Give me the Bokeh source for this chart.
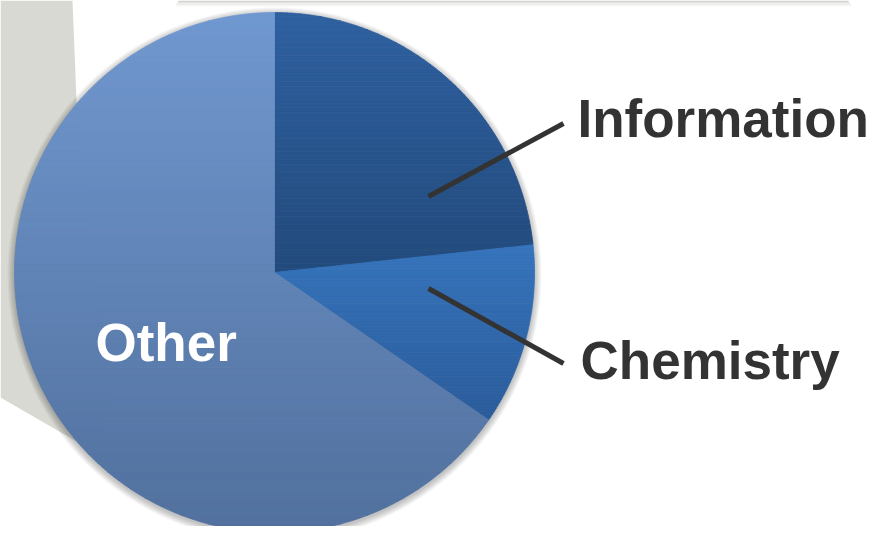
import numpy as np
from bokeh.plotting import figure
from bokeh.models import Range1d
from bokeh.core.properties import value
from bokeh.embed import file_html
from bokeh.resources import INLINE

# ---- data -------------------------------------------------------------
categories = ["Information", "Chemistry", "Other"]
shares = [23.3, 11.3, 65.4]          # percent of the whole
top_colors = ["#2e60a0", "#3674bc", "#7098d0"]
bottom_colors = ["#224a7c", "#2b5c9b", "#51709d"]

# ---- layout (pixels -> data units, pie radius = 1) ---------------------
W, H = 871, 526
CX, CY, R = 274.0, 272.0, 260.0      # pie centre / radius in picture pixels


def dx(sx):
    return (sx - CX) / R


def dy(sy):
    return (CY - sy) / R


p = figure(width=W, height=H, output_backend="svg", toolbar_location=None,
           x_axis_type=None, y_axis_type=None, min_border=0,
           x_range=Range1d(dx(0), dx(W)), y_range=Range1d(dy(H), dy(0)))
p.outline_line_color = None
p.background_fill_color = "white"
p.border_fill_color = "white"
p.grid.visible = False

# slide background: grey panel on the left
gx = [dx(0), dx(72), dx(78), dx(110), dx(95), dx(0)]
gy = [dy(0), dy(0), dy(150), dy(400), dy(452), dy(397)]
p.patch(gx, gy, fill_color="#d9d9d3", line_color=None)

# slide background: shadowed lower edge of a text box at the top
strip_cols = ["#d4d4d2", "#e2e2e0", "#eeeeec", "#f7f7f6"]
for k, c in enumerate(strip_cols):
    p.quad(left=[dx(178 - k)], right=[dx(848 + k)], top=[dy(k * 1.5)],
           bottom=[dy(k * 1.5 + 1.5)], fill_color=c, line_color=None)

# soft shadow under the pie
for k in range(1, 8):
    p.circle(x=[0], y=[-2.0 / R], radius=1 + k / R, fill_color="black",
             fill_alpha=0.035, line_color=None)


# ---- pie with vertical gradient per slice --------------------------------
def clip(poly, inside, inter):
    out = []
    n = len(poly)
    for i in range(n):
        cur, prev = poly[i], poly[i - 1]
        if inside(cur):
            if not inside(prev):
                out.append(inter(prev, cur))
            out.append(cur)
        elif inside(prev):
            out.append(inter(prev, cur))
    return out


def y_cut(c):
    def f(a, b):
        t = (c - a[1]) / (b[1] - a[1])
        return (a[0] + t * (b[0] - a[0]), c)
    return f


def hex2rgb(h):
    h = h.lstrip("#")
    return np.array([int(h[i:i + 2], 16) for i in (0, 2, 4)], dtype=float)


def rgb2hex(c):
    return "#%02x%02x%02x" % tuple(int(round(v)) for v in c)


fr = np.array(shares) / np.sum(shares)
ends = np.pi / 2 - 2 * np.pi * np.cumsum(fr)
starts = np.concatenate([[np.pi / 2], ends[:-1]])

bx, by, bc = [], [], []
NB = 60
for i in range(len(categories)):
    ang = np.linspace(starts[i], ends[i], 300)
    poly = [(0.0, 0.0)] + [(np.cos(a), np.sin(a)) for a in ang]
    ys = [q[1] for q in poly]
    ymin, ymax = min(ys), max(ys)
    c_top, c_bot = hex2rgb(top_colors[i]), hex2rgb(bottom_colors[i])
    edges = np.linspace(ymax, ymin, NB + 1)
    for j in range(NB):
        hi, lo = edges[j], edges[j + 1]
        pl = clip(poly, lambda q, lo=lo: q[1] >= lo, y_cut(lo))
        pl = clip(pl, lambda q, hi=hi: q[1] <= hi, y_cut(hi))
        if len(pl) < 3:
            continue
        t = (j + 0.5) / NB
        col = rgb2hex(c_top * (1 - t) + c_bot * t)
        bx.append([q[0] for q in pl])
        by.append([q[1] for q in pl])
        bc.append(col)

p.patches(bx, by, fill_color=bc, line_color=bc, line_width=0.8)

# ---- leader lines -------------------------------------------------------
p.segment(x0=[dx(428), dx(428)], y0=[dy(196), dy(288)],
          x1=[dx(563), dx(563)], y1=[dy(123), dy(363)],
          line_color="#333333", line_width=5)

# ---- labels -------------------------------------------------------------
font = value("Liberation Sans")
p.text(x=[dx(577), dx(580)], y=[dy(118), dy(360)],
       text=[categories[0], categories[1]], text_font=font,
       text_font_style="bold", text_font_size="53px", text_color="#333333",
       text_baseline="alphabetic", text_align="left")
p.text(x=[dx(95)], y=[dy(342)], text=[categories[2]], text_font=font,
       text_font_style="bold", text_font_size="53px", text_color="white",
       text_baseline="alphabetic", text_align="left")

open("out.html", "w").write(file_html(p, INLINE))
